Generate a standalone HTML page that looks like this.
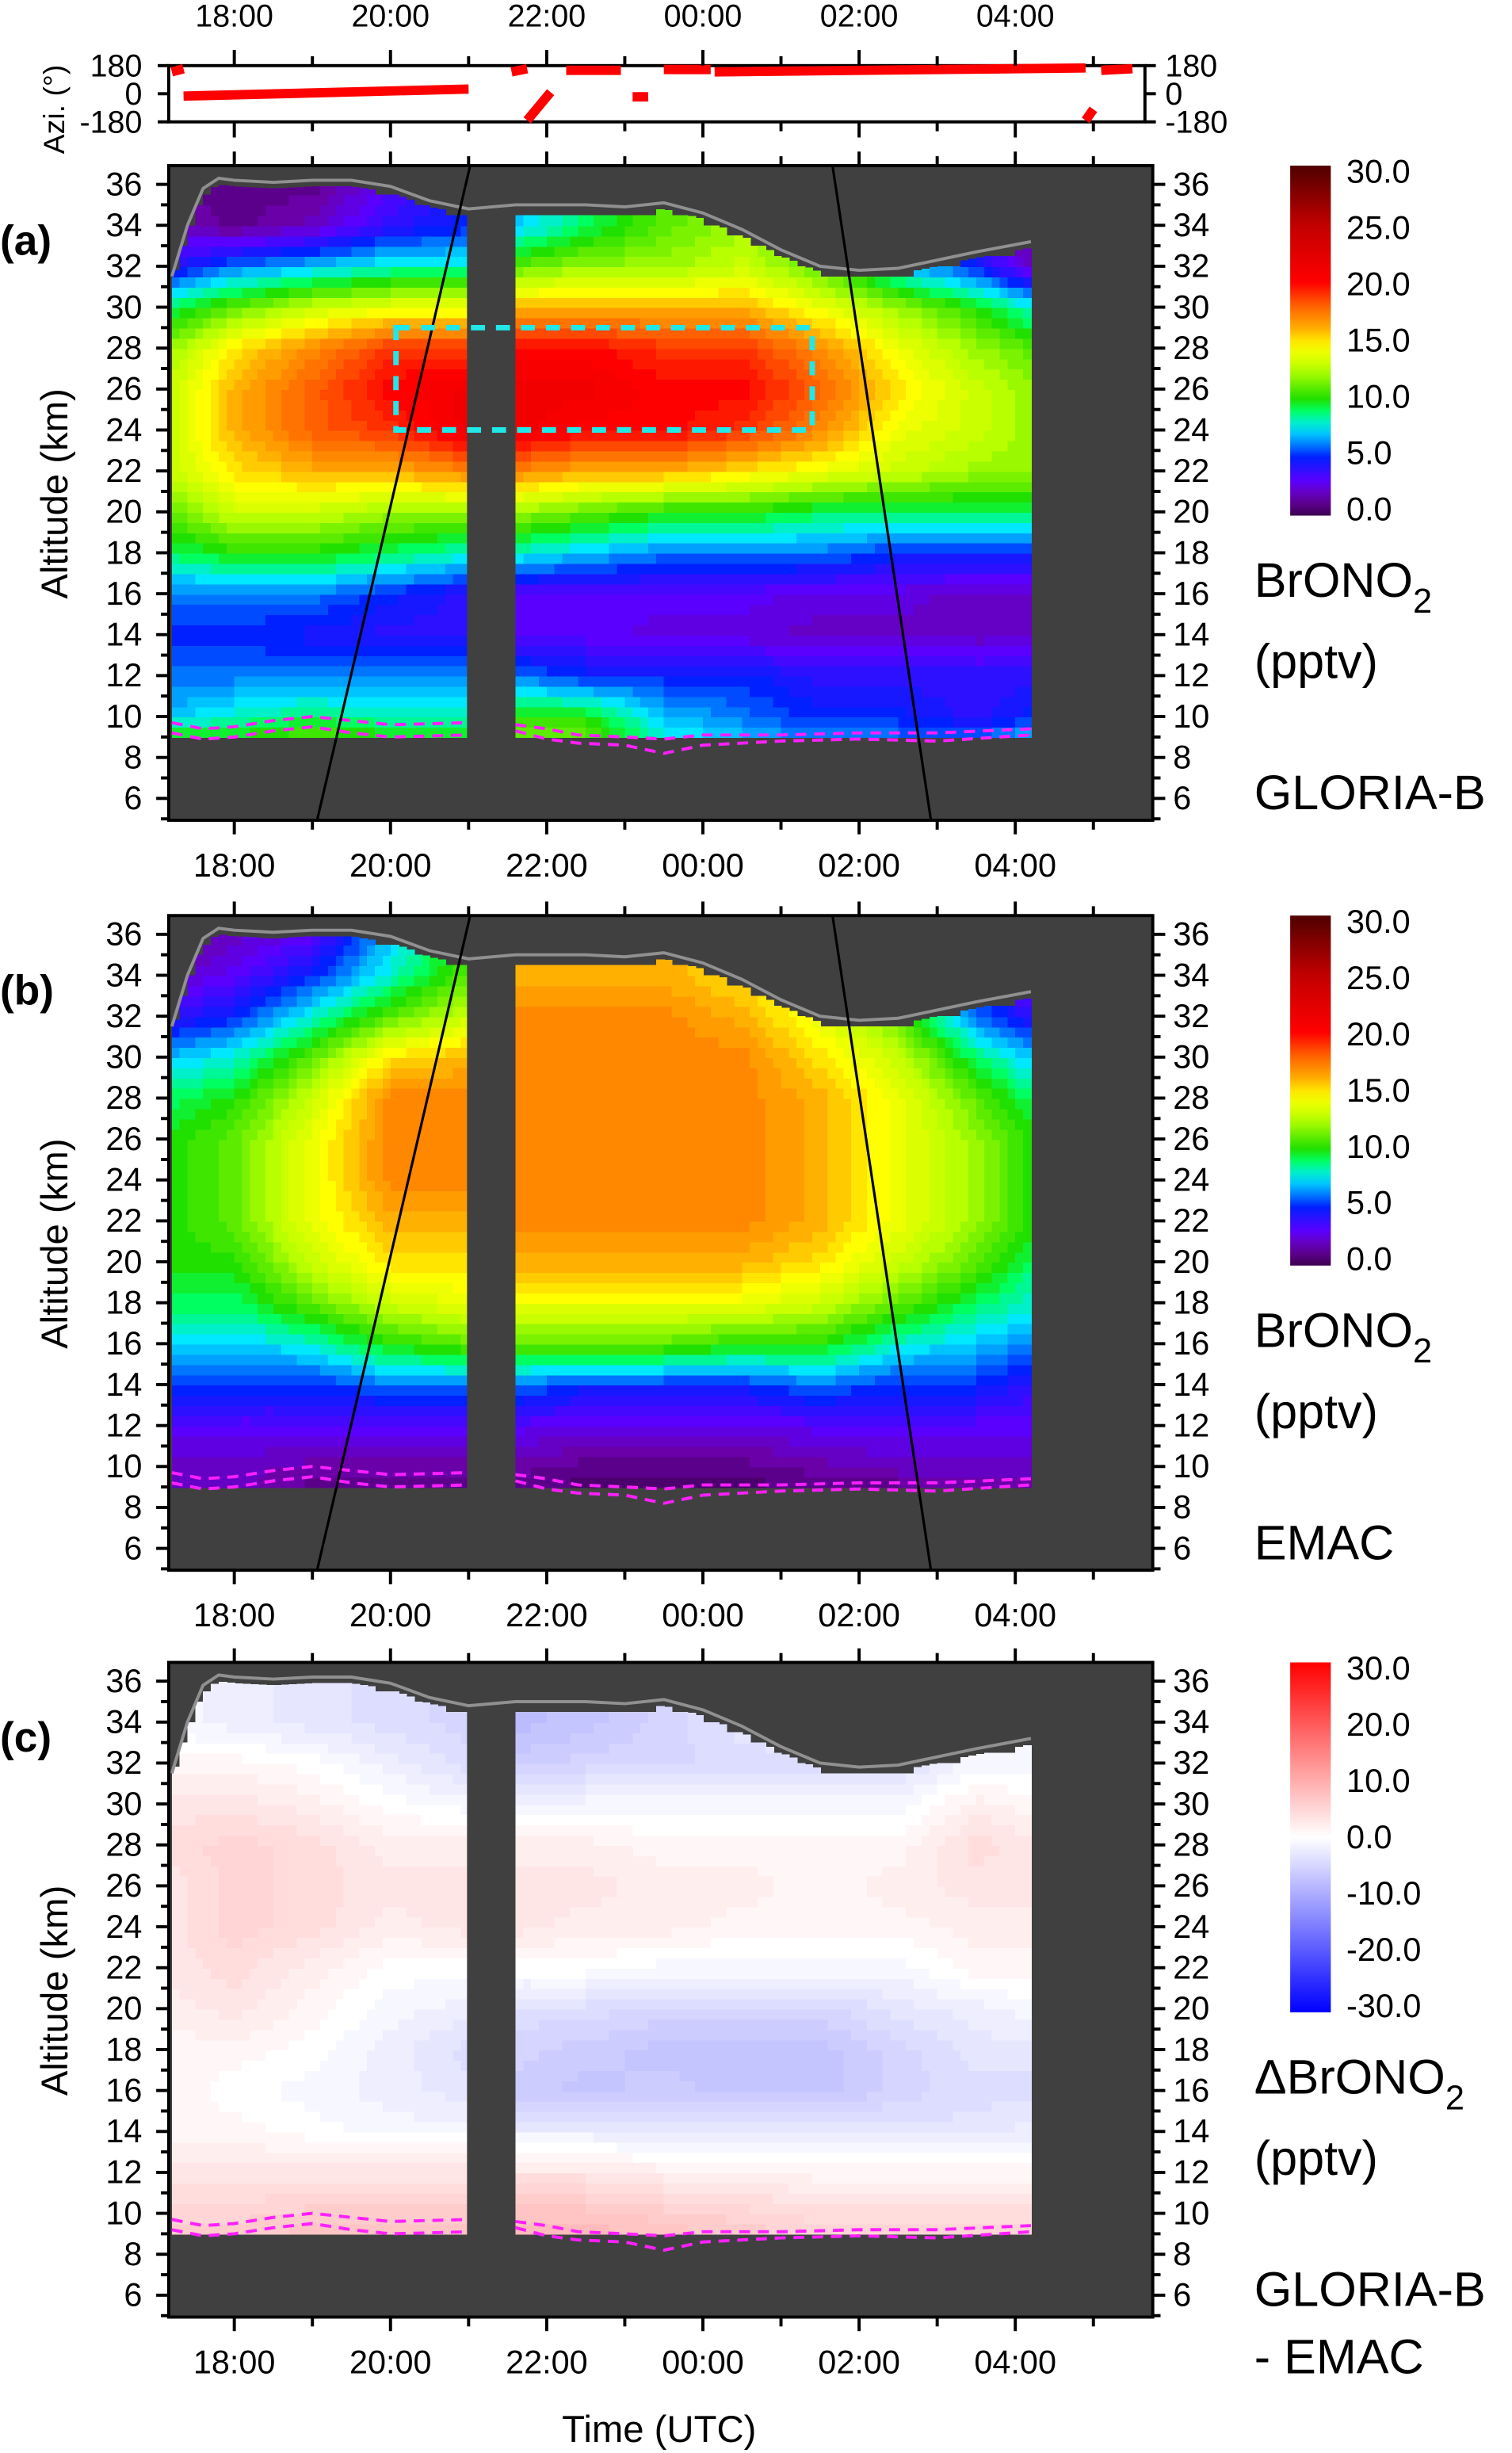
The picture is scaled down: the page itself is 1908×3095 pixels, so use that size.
<!DOCTYPE html>
<html><head><meta charset="utf-8"><style>
html,body{margin:0;padding:0;background:#fff}
svg{display:block}
text{font-family:"Liberation Sans",sans-serif;fill:#000}
</style></head><body>
<svg id="fig" width="1908" height="3095" viewBox="0 0 968 1570" preserveAspectRatio="none" xmlns="http://www.w3.org/2000/svg"></svg>
<script>
// ---------- data ----------
const times=[-0.8,0,1,2,3,3.6,4.5,5.5,6.5,7.5,8.5,9.5,10.2];
const alts=[9,10,12,14,16,18,20,22,24,26,28,30,32,34,36];
const gloria=[
[10,7,6,5,6,9,11,13,13,13,12,9,4,2,1],
[10,8,6,5,6,10,13,15,16,16,15,11,6,1,1],
[11,9,6,4.5,6,10,13,16,18,18,17,13,7,2,1],
[10,8,6,4,5,9,12,16,19,20,19,14,8,4,3],
[10,8,6,4,4,8,12,17,21,21,19,14,8,5,5],
[11,10,6,3,3,8,12,17,21,21,20,16,11,7,7],
[11,10,5,3,3,7,11,16,20,21,20,16,12,9,9],
[8,7,5,2.5,3,6,10,16,20,20,19,16,12,11,11],
[7,6,5,2.5,3,6,10,15,19,20,19,16,13,12,12],
[6,5,4,2,2.5,6,9,14,17,18,17,14,11,11,11],
[6,5,4,2,2.5,5,9,13,14,15,14,12,7,5,5],
[6,4,4,2,2,5,9,12,13,13,12,10,5,3,3],
[7,5,4,2,2,5,9,12,12,12,11,8,2,1,1]];
const emac=[
[2,2,3,5,7,9,10,10,10,10,9,7,4,2,1],
[2,2,3,5,7,9,10,11,11,11,10,8,5,3,2],
[1,1.5,3,5,8,11,13,14,14,14,13,11,8,5,3],
[1,1.5,3,6,10,13,15,16,17,17,17,15,11,8,7],
[1,1.5,3,6,11,14,15,16,17,17,17,16,13,11,10],
[1,1.5,3,6,11,14,16,17,17,17,17,17,17,16,15],
[0.5,1,2.5,5,11,14,16,17,17,17,17,17,17,16,15],
[0.5,1,2.5,5,11,14,16,17,17,17,17,17,17,16,16],
[0.5,1,2.5,5,10,14,16,17,17,17,17,17,16,15,15],
[1,1.5,3,6,10,13,15,16,16,16,16,15,14,13,13],
[1,2,3,5,8,11,13,14,14,14,14,13,11,10,10],
[1,2,3,5,7,9,11,12,12,12,11,9,6,4,4],
[1,2,3,4,6,8,9,10,10,10,9,7,4,2,2]];
const diffv=[
[6,5,3,1,1,1,2,3,3,3,4,3,1,-1,-1],
[6,5,3,1,0,1,3,4,5,5,5,3,1,-2,-2],
[7,6,3,0,-1,0,1,2,4,4,4,2,0,-3,-3],
[7,6,3,-1,-2,-2,-1,0,2,3,2,0,-2,-4,-4],
[7,6,3,-1,-3,-4,-2,0,3,3,2,-1,-4,-5,-5],
[8,7,3,-2,-6,-5,-4,0,3,3,2,-1,-6,-8,-8],
[8,7,3,-2,-7,-6,-4,0,2,3,2,-1,-5,-7,-7],
[7,6,2,-3,-6,-7,-5,-1,2,2,1,-1,-5,-5,-5],
[6,5,2,-3,-7,-7,-5,-1,1,2,1,-1,-4,-3,-3],
[5,4,1,-3,-7,-7,-5,-1,1,1,1,-1,-4,-2,-2],
[5,4,1,-3,-5,-5,-3,-1,1,2,1,-1,-4,-4,-4],
[5,4,1,-3,-4,-3,-2,1,2,3,4,2,-1,-1,-1],
[6,4,1,-2,-4,-3,-1,1,2,3,3,1,-1,-1,-1]];
const ceilT=[-0.8,-0.6,-0.4,-0.2,0,0.5,1,1.5,2,2.5,3,3.6,4.5,5,5.5,6,6.5,7,7.5,8,8.5,9,9.5,10.2];
const ceilA=[31.5,34,35.8,36.3,36.2,36.1,36.2,36.2,35.9,35.2,34.8,35.0,35.0,34.9,35.1,34.6,33.8,32.8,32.0,31.8,31.9,32.3,32.7,33.2];
const magT=[-0.8,-0.4,0,0.5,1,1.5,2,3,3.6,4,4.4,5,5.5,6,7,8,9,10.2];
const magA1=[9.7,9.4,9.5,9.8,10.0,9.8,9.6,9.7,9.6,9.4,9.1,9.0,8.9,9.1,9.1,9.2,9.2,9.4];
const magA2=[9.2,8.9,9.0,9.3,9.5,9.2,9.0,9.1,9.3,8.9,8.7,8.6,8.2,8.6,8.8,8.9,8.8,9.1];
const aziSegs=[[-0.8,-0.65,140,160],[-0.65,3.0,-15,30],[3.55,3.75,140,160],[3.75,4.05,-170,10],[4.25,4.95,150,150],[5.1,5.3,-20,-20],[5.5,6.1,155,155],[6.15,10.9,140,165],[10.9,11.0,-170,-100],[11.1,11.5,150,160]];
const xTickLabels=["18:00","20:00","22:00","00:00","02:00","04:00"];
const yTickLabels=[6,8,10,12,14,16,18,20,22,24,26,28,30,32,34,36];
const cbLabelsA=["30.0","25.0","20.0","15.0","10.0","5.0","0.0"];
const cbLabelsC=["30.0","20.0","10.0","0.0","-10.0","-20.0","-30.0"];
// ---------- helpers ----------
const NS="http://www.w3.org/2000/svg", svg=document.getElementById('fig');
function el(t,a,p){const e=document.createElementNS(NS,t);for(const k in a)e.setAttribute(k,a[k]);(p||svg).appendChild(e);return e;}
const X=h=>150+50*h;
const Y=(alt,dy)=>118+dy+(36-alt)*13.1;
function interp1(xs,ys,x){if(x<=xs[0])return ys[0];for(let i=1;i<xs.length;i++)if(x<=xs[i]){const f=(x-xs[i-1])/(xs[i]-xs[i-1]);return ys[i-1]+f*(ys[i]-ys[i-1]);}return ys[ys.length-1];}
function bil(M,t,a){let i=0;while(i<times.length-2&&t>times[i+1])i++;const ft=Math.max(0,Math.min(1,(t-times[i])/(times[i+1]-times[i])));
let j=0;while(j<alts.length-2&&a>alts[j+1])j++;const fa=Math.max(0,Math.min(1,(a-alts[j])/(alts[j+1]-alts[j])));
const v00=M[i][j],v01=M[i][j+1],v10=M[i+1][j],v11=M[i+1][j+1];return (v00*(1-fa)+v01*fa)*(1-ft)+(v10*(1-fa)+v11*fa)*ft;}
function hex(c){return [parseInt(c.slice(1,3),16),parseInt(c.slice(3,5),16),parseInt(c.slice(5,7),16)];}
const rb=[[0,'#3c0050'],[1.5,'#6a00a8'],[3,'#5a00ff'],[5,'#0020ff'],[6.5,'#00a0ff'],[7.5,'#00e8ff'],[9,'#00ff60'],[10,'#20e000'],[12.5,'#b8ff00'],[14.5,'#ffff00'],[16,'#ffb000'],[18,'#ff6000'],[20,'#ff0000'],[25,'#c00000'],[30,'#500000']];
const dv=[[-30,'#0000ff'],[0,'#ffffff'],[30,'#ff0000']];
function cmap(st,v){if(v<=st[0][0])return st[0][1];for(let i=1;i<st.length;i++)if(v<=st[i][0]){const f=(v-st[i-1][0])/(st[i][0]-st[i-1][0]);const a=hex(st[i-1][1]),b=hex(st[i][1]);return 'rgb('+a.map((x,k)=>Math.round(x+f*(b[k]-x))).join(',')+')';}return st[st.length-1][1];}
// ---------- azimuth panel ----------
const az=el('g',{});
const AY=v=>60-v*18/180;
el('rect',{x:108,y:42,width:625,height:36,fill:'#fff',stroke:'#000','stroke-width':2},az);
for(const s of aziSegs){const p=el('line',{x1:X(s[0]),y1:AY(s[2]),x2:X(s[1]),y2:AY(s[3]),stroke:'#ff0000','stroke-width':6},az);

}
[[180,'180'],[0,'0'],[-180,'-180']].forEach(v=>{
 el('line',{x1:101,y1:AY(v[0]),x2:108,y2:AY(v[0]),stroke:'#000','stroke-width':2},az);
 el('line',{x1:733,y1:AY(v[0]),x2:740,y2:AY(v[0]),stroke:'#000','stroke-width':2},az);
 const t1=el('text',{x:91,y:AY(v[0])+7,'font-size':20,'text-anchor':'end'},az);t1.textContent=v[1];
 const t2=el('text',{x:746,y:AY(v[0])+7,'font-size':20},az);t2.textContent=v[1];});
for(let h=-1;h<=12;h++){const x=X(h);if(x<108||x>733)continue;
 el('line',{x1:x,y1:78,x2:x,y2:h%2==0?88:84,stroke:'#000','stroke-width':2},az);
 el('line',{x1:x,y1:42,x2:x,y2:h%2==0?32:36,stroke:'#000','stroke-width':2},az);}
xTickLabels.forEach((s,i)=>{const t=el('text',{x:X(2*i),y:17,'font-size':20,'text-anchor':'middle'},az);t.textContent=s;});
const azt=el('text',{x:0,y:0,'font-size':19,'text-anchor':'middle',transform:'translate(41,70) rotate(-90)'},az);azt.textContent='Azi. (°)';
// ---------- panels ----------
const panels=[{dy:0,M:gloria,cm:rb,lab:'(a)',cb:cbLabelsA,name:'GLORIA-B',lines:true,box:true,delta:false},
{dy:480,M:emac,cm:rb,lab:'(b)',cb:cbLabelsA,name:'EMAC',lines:true,box:false,delta:false},
{dy:958,M:diffv,cm:dv,lab:'(c)',cb:cbLabelsC,name:'GLORIA-B',name2:'- EMAC',lines:false,box:false,delta:true}];
panels.forEach((P,pi)=>{
 const dy=P.dy;
 const g=el('g',{});
 el('rect',{x:108,y:106+dy,width:630,height:419,fill:'#404040'},g);
 const hm=el('g',{'shape-rendering':'crispEdges'},g);
 
 
 const dt=0.1,da=0.5;
 for(let t=-0.8;t<10.2-1e-6;t+=dt){
  if(t>2.99&&t<3.59)continue;
  const tc=t+dt/2, ceil=interp1(ceilT,ceilA,tc)-0.3;
  for(let a=9;a<37;a+=da){
   if(a+da/2>ceil)break;
   const top=Math.min(a+da,ceil);
   const v=bil(P.M,tc,a+da/2);
   const q=P.delta?Math.round(v):Math.round(v*2)/2;
   const r=el('rect',{x:X(t),y:Y(top,dy),width:dt*50+0.6,height:(top-a)*13.1+0.6,fill:cmap(P.cm,q)},hm);
   
   
  }}
 el('rect',{x:X(2.98),y:106+dy,width:X(3.58)-X(2.98),height:419,fill:'#404040'},g);
 let pts=ceilT.map((t,i)=>X(t)+','+Y(ceilA[i],dy)).join(' ');
 const cl=el('polyline',{points:pts,fill:'none',stroke:'#909090','stroke-width':2},g);
 
 
 [magA1,magA2].forEach(A=>{
  const seg1=[],seg2=[];magT.forEach((t,i)=>{(t<=3.0?seg1:seg2).push(X(t)+','+Y(A[i],dy));});
  [seg1,seg2].forEach(s=>{const m=el('polyline',{points:s.join(' '),fill:'none',stroke:'#ff20ff','stroke-width':2,'stroke-dasharray':'7,5'},g);
  
  });});
 if(P.lines){
  el('line',{x1:203,y1:525+dy,x2:301,y2:106+dy,stroke:'#000','stroke-width':1.6},g);
  el('line',{x1:533,y1:106+dy,x2:596,y2:525+dy,stroke:'#000','stroke-width':1.6},g);}
 if(P.box){const b=el('rect',{x:X(2.07),y:Y(29,dy),width:X(7.4)-X(2.07),height:Y(24,dy)-Y(29,dy),fill:'none',stroke:'#20e8e8','stroke-width':3.5,'stroke-dasharray':'9,7'},g);
  
  }
 el('rect',{x:108,y:106+dy,width:630,height:419,fill:'none',stroke:'#000','stroke-width':2},g);
 for(let a=5;a<=36;a++){const y=Y(a,dy);const maj=a%2==0;
  el('line',{x1:maj?100:103,y1:y,x2:108,y2:y,stroke:'#000','stroke-width':2},g);
  el('line',{x1:738,y1:y,x2:maj?746:743,y2:y,stroke:'#000','stroke-width':2},g);}
 yTickLabels.forEach(v=>{const y=Y(v,dy)+7;
  const a=el('text',{x:91,y:y,'font-size':21,'text-anchor':'end'},g);a.textContent=v;
  const b=el('text',{x:751,y:y,'font-size':21},g);b.textContent=v;});
 for(let h=-1;h<=12;h++){const x=X(h);if(x<108||x>738)continue;
  el('line',{x1:x,y1:525+dy,x2:x,y2:525+dy+(h%2==0?9:6),stroke:'#000','stroke-width':2},g);
  el('line',{x1:x,y1:106+dy,x2:x,y2:106+dy-(h%2==0?9:6),stroke:'#000','stroke-width':2},g);}
 xTickLabels.forEach((s,i)=>{const t=el('text',{x:X(2*i),y:561+dy,'font-size':21,'text-anchor':'middle'},g);t.textContent=s;});
 const yt=el('text',{x:0,y:0,'font-size':24,'text-anchor':'middle',transform:'translate(43,'+(316+dy)+') rotate(-90)'},g);yt.textContent='Altitude (km)';
 const pl=el('text',{x:0,y:163+dy,'font-size':27,'font-weight':'bold'},g);pl.textContent=P.lab;
 const gid='cbg'+pi;const defs=el('defs',{},g);const lg=el('linearGradient',{id:gid,x1:0,y1:1,x2:0,y2:0},defs);
 const lo=P.delta?-30:0,hi=30;
 for(let k=0;k<=30;k++){const v=lo+(hi-lo)*k/30;el('stop',{offset:k/30,'stop-color':cmap(P.cm,v)},lg);}
 const cb=el('rect',{x:826,y:106+dy,width:26,height:224,fill:'url(#'+gid+')'},g);
 
 
 P.cb.forEach((s,i)=>{const t=el('text',{x:862,y:117+dy+36*i,'font-size':21},g);t.textContent=s;});
 const sp=el('text',{x:803,y:382+dy,'font-size':31},g);
 sp.innerHTML=(P.delta?'ΔBrONO':'BrONO')+'<tspan dy="10" font-size="22">2</tspan>';
 const un=el('text',{x:803,y:434+dy,'font-size':31},g);un.textContent='(pptv)';
 const nm=el('text',{x:803,y:518+dy,'font-size':31},g);nm.textContent=P.name;
 if(P.name2){const n2=el('text',{x:803,y:1519,'font-size':31},g);n2.textContent=P.name2;}
});
const xt=el('text',{x:422,y:1563,'font-size':24,'text-anchor':'middle'});xt.textContent='Time (UTC)';


</script>
</body></html>
